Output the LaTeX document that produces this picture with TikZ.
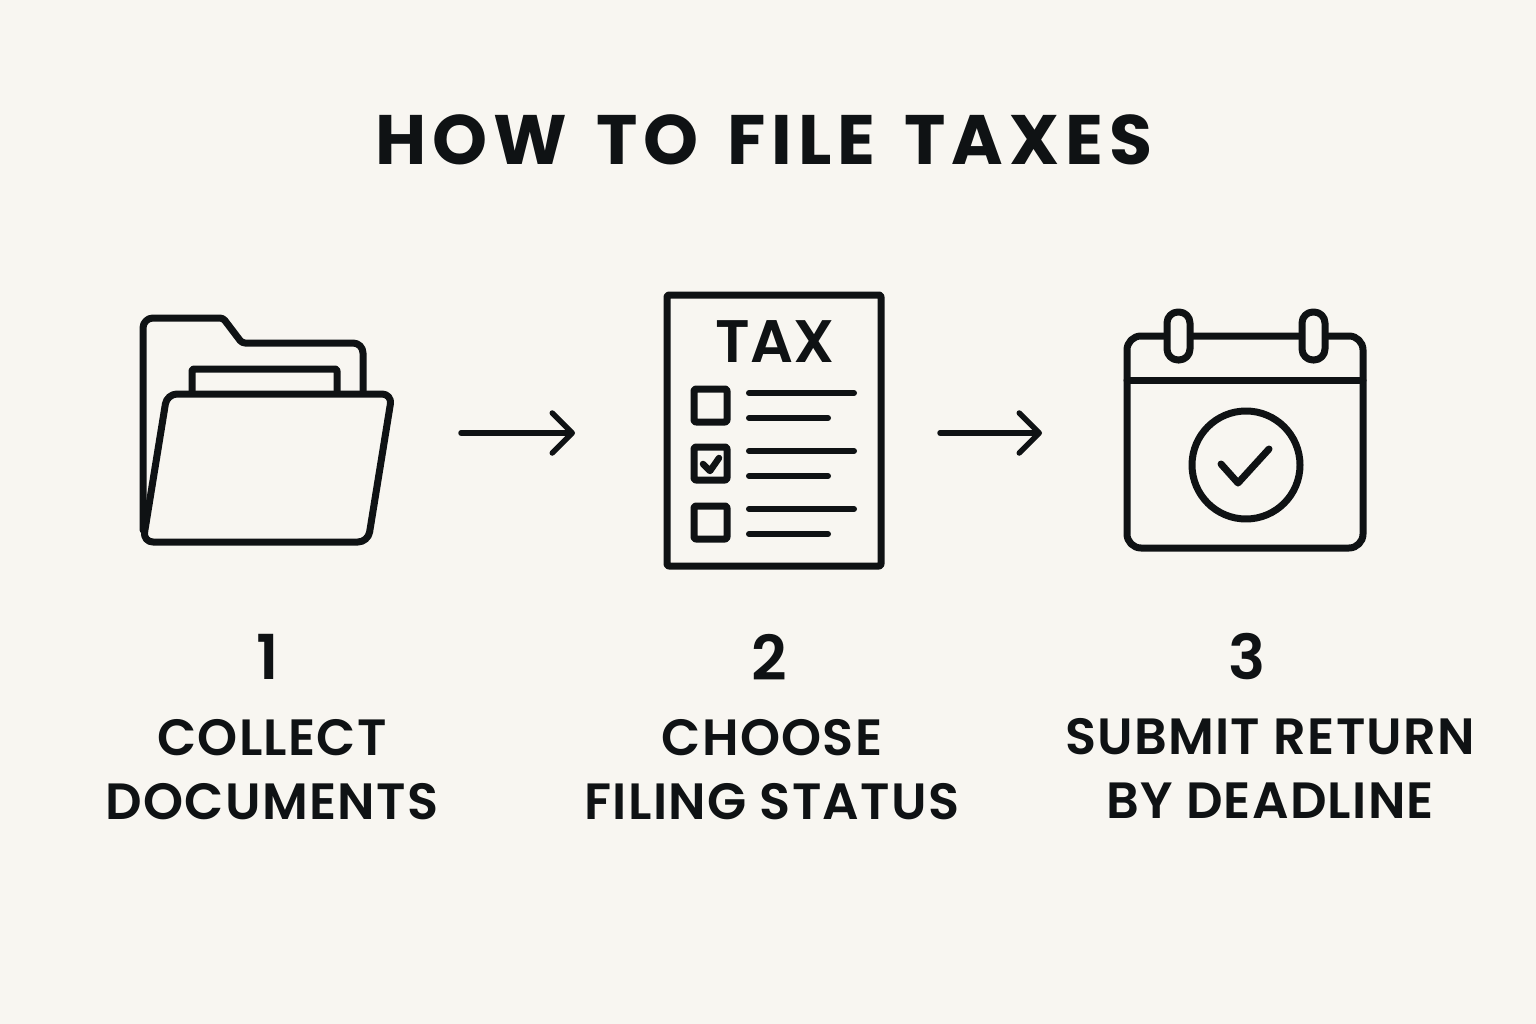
\documentclass[tikz,border=0pt]{standalone}
\usepackage{fontspec}
\setmainfont{Poppins}[UprightFont=* Medium, BoldFont=* SemiBold]
\newfontfamily\titlefont{Poppins}[UprightFont=* Bold, LetterSpace=8.4, WordSpace=1.4]
\usetikzlibrary{positioning,arrows.meta}
\definecolor{paperbg}{HTML}{F8F6F1}
\definecolor{ink}{HTML}{0F1214}
\tikzset{
  iconline/.style={draw=ink, line width=7pt, line join=round, line cap=round},
  thinline/.style={draw=ink, line width=6pt, line cap=round},
  flowarrow/.style={draw=ink, line width=5.5pt, line cap=round,
    -{Straight Barb[length=20pt, width=40pt, line width=5.5pt, round]}},
  stepnum/.style={font=\fontsize{62}{62}\selectfont\bfseries, text=ink, inner sep=0pt},
  steplabel/.style={font=\addfontfeature{LetterSpace=2.5}\fontsize{51}{64}\selectfont\bfseries,
    text=ink, align=center, inner sep=0pt}
}
\begin{document}
\begin{tikzpicture}[x=1pt,y=-1pt]
  \useasboundingbox (0,0) rectangle (1536,1024);
  \fill[paperbg] (0,0) rectangle (1536,1024);

  \node[font=\titlefont\fontsize{70}{70}\selectfont,
    text=ink, inner sep=0pt] (title) at (764,140) {HOW TO FILE TAXES};

  % folder
  \draw[iconline, rounded corners=10pt] (143,530) -- (143,318)
    [rounded corners=3pt] -- (223,318) -- (242,343)
    [rounded corners=10pt] -- (363,343) -- (363,400);
  \draw[iconline, rounded corners=2pt] (192,400) -- (192,369) -- (337,369) -- (337,400);
  \draw[iconline, fill=paperbg, rounded corners=10pt] (167,394) -- (392,394)
    -- (368,542) -- (143,542) -- cycle;

  % tax form
  \draw[iconline, rounded corners=2pt] (667,295) rectangle (881,566);
  \node[font=\fontsize{60}{60}\selectfont\bfseries, text=ink, inner sep=0pt] (tax) at (775,342) {TAX};
  \foreach \y/\ya/\yb in {389/393/418, 447/451/476, 506/509/534} {
    \draw[iconline, rounded corners=2pt] (694,\y) rectangle (727,\y+33);
    \draw[thinline] (749,\ya) -- (854,\ya);
    \draw[thinline] (749,\yb) -- (828,\yb);
  }
  \draw[iconline, line width=6.5pt] (703,464) -- (710,471) -- (719,458);

  % calendar
  \draw[iconline, rounded corners=14pt] (1127,336) rectangle (1363,548);
  \draw[iconline] (1127,380) -- (1363,380);
  \foreach \x in {1167,1302} {
    \draw[iconline, fill=paperbg, rounded corners=11pt] (\x,312) rectangle (\x+23,360);
  }
  \draw[iconline] (1246,465) circle[radius=54pt];
  \draw[iconline] (1221,464) -- (1238,483) -- (1269,449);

  % arrows
  \coordinate (arrowA1) at (461,433);
  \coordinate (arrowA2) at (575,433);
  \coordinate (arrowB1) at (940,433);
  \coordinate (arrowB2) at (1042,433);
  \draw[flowarrow] (arrowA1) -- (arrowA2);
  \draw[flowarrow] (arrowB1) -- (arrowB2);

  % steps
  \node[stepnum] (numA) at (268,657) {1};
  \node[stepnum] (numB) at (769,657) {2};
  \node[stepnum] (numC) at (1247,657) {3};
  \node[steplabel, below=39pt of numA, xshift=4pt] (stepA) {COLLECT\\DOCUMENTS};
  \node[steplabel, below=39pt of numB, xshift=3pt] (stepB) {CHOOSE\\FILING STATUS};
  \node[steplabel, below=38pt of numC, xshift=23pt] (stepC) {SUBMIT RETURN\\BY DEADLINE};
\end{tikzpicture}
\end{document}
